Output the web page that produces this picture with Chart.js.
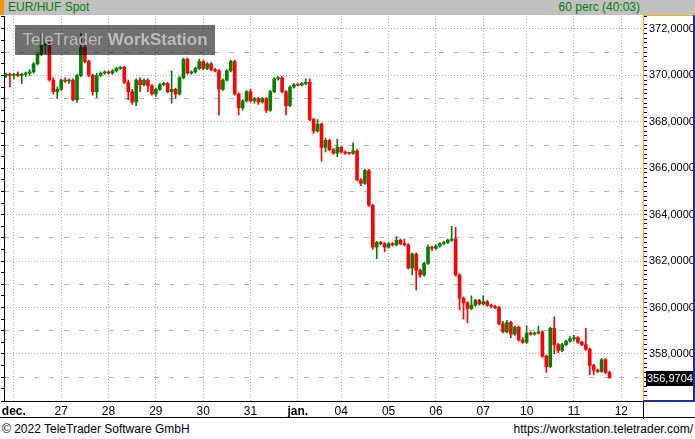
<!DOCTYPE html>
<html>
<head>
<meta charset="utf-8">
<script src="https://cdn.jsdelivr.net/npm/chart.js@4.4.1/dist/chart.umd.min.js"></script>
<style>
  body { margin: 0; width: 695px; height: 439px; position: relative; background: #fff; overflow: hidden;
         font-family: "Liberation Sans", Arial, sans-serif; }
  #head { position: absolute; left: 0; top: 0; width: 695px; height: 15px; background: #c0c0c0; }
  #head .mark { position: absolute; left: 0; top: 0; width: 4px; height: 15px; background: #f39200; }
  #head .title { position: absolute; left: 8px; top: 0; line-height: 15px; font-size: 12px; color: #008000; }
  #head .period { position: absolute; right: 55px; top: 0; line-height: 15px; font-size: 12px; color: #008000; }
  #wrap { position: absolute; left: 0; top: 15px; width: 695px; height: 404px; }
  #mark { position: absolute; left: 15px; top: 25px; width: 200px; height: 30px; background: rgba(0,0,0,0.56);
          color: #bcbcbc; font-size: 17px; line-height: 30px; text-align: center; z-index: 2; }
  #mark b { font-weight: bold; }
  .foot { position: absolute; top: 420px; line-height: 19px; font-size: 12px; color: #000; }
</style>
</head>
<body>
<div id="head"><div class="mark"></div><span class="title">EUR/HUF Spot</span><span class="period">60 perc (40:03)</span></div>
<div id="wrap"><canvas id="fxChart"></canvas></div>
<div id="mark">TeleTrader <b>WorkStation</b></div>
<div class="foot" style="left:2px">© 2022 TeleTrader Software GmbH</div>
<div class="foot" style="right:2px">https://workstation.teletrader.com/</div>
<script>
// days on the axis and how many 2h bars each one holds
var dayLabels = ['', 'dec.', '27', '28', '29', '30', '31', 'jan.', '04', '05', '06', '07', '10', '11', '12'];
var barsPerDay = [2, 12, 12, 12, 12, 12, 12, 11, 12, 12, 12, 11, 12, 12, 6];
var monthLabels = ['dec.', 'jan.'];
var lastPrice = 356.9704;

var opens = [
  370.00, 370.05, 370.00, 370.05, 370.00, 370.05, 370.10, 370.15, 370.50, 370.90,
  371.30, 371.35, 369.80, 369.30, 369.40, 369.80, 369.75, 369.80, 368.95, 370.00,
  371.20, 370.60, 370.00, 369.30, 370.00, 370.10, 370.15, 370.10, 370.20, 370.30,
  370.35, 369.70, 369.30, 368.85, 369.80, 369.60, 369.80, 369.55, 369.20, 369.40,
  369.60, 369.65, 369.30, 369.40, 369.20, 369.90, 370.70, 370.10, 370.15, 370.30,
  370.60, 370.30, 370.50, 370.25, 370.20, 369.40, 369.80, 370.20, 370.60, 369.20,
  368.60, 368.90, 369.30, 368.90, 369.00, 368.85, 369.00, 368.50, 369.30, 369.85,
  369.90, 369.30, 368.70, 369.50, 369.60, 369.58, 369.65, 369.70, 368.10, 367.60,
  367.90, 366.90, 367.20, 366.80, 366.65, 366.90, 366.70, 366.65, 366.64, 366.75,
  365.50, 365.35, 365.90, 364.40, 362.60, 362.80, 362.75, 362.60, 362.75, 362.70,
  362.90, 362.75, 362.70, 361.70, 362.30, 361.60, 361.40, 361.90, 362.60, 362.55,
  362.65, 362.75, 362.80, 362.90, 362.95, 361.40, 360.40, 360.20, 359.95, 360.10,
  360.30, 360.15, 360.25, 360.10, 360.05, 360.00, 359.30, 358.95, 359.35, 358.85,
  359.15, 358.60, 358.50, 358.90, 358.85, 358.90, 358.95, 357.90, 357.45, 359.10,
  358.40, 358.15, 358.40, 358.55, 358.65, 358.70, 358.50, 358.40, 358.20, 357.50,
  357.30, 357.25, 357.75, 357.20
];
var highs = [
  370.10, 370.10, 370.10, 370.15, 370.10, 370.15, 370.25, 370.55, 370.95, 371.80,
  371.55, 371.45, 369.90, 369.50, 369.85, 369.90, 369.85, 369.85, 370.05, 371.80,
  371.30, 370.65, 370.05, 370.10, 370.15, 370.20, 370.20, 370.25, 370.35, 370.40,
  370.40, 369.80, 369.40, 369.85, 369.90, 369.85, 369.85, 369.60, 369.45, 369.65,
  369.70, 369.70, 370.20, 369.45, 369.95, 370.75, 370.75, 370.20, 370.35, 370.70,
  370.65, 370.55, 370.55, 370.30, 370.25, 369.85, 370.25, 370.65, 370.65, 369.25,
  368.95, 369.35, 369.40, 369.05, 369.05, 369.05, 369.05, 369.35, 369.90, 369.95,
  369.95, 369.35, 369.55, 369.65, 369.65, 369.70, 369.85, 369.85, 368.15, 368.10,
  367.95, 367.30, 367.25, 366.85, 367.25, 366.95, 366.75, 366.70, 367.10, 366.80,
  365.55, 365.95, 365.95, 364.45, 362.85, 362.85, 362.80, 362.80, 362.80, 363.05,
  362.95, 362.95, 362.75, 362.35, 362.35, 361.65, 361.95, 362.70, 362.65, 362.70,
  362.80, 362.85, 362.95, 363.50, 363.45, 361.45, 360.45, 360.25, 360.50, 360.35,
  360.35, 360.50, 360.30, 360.15, 360.10, 360.05, 359.40, 359.45, 359.40, 359.20,
  359.20, 358.70, 359.20, 358.95, 358.95, 359.20, 359.00, 357.95, 359.15, 359.60,
  358.45, 358.45, 358.60, 358.75, 358.80, 358.75, 358.55, 359.10, 358.25, 357.55,
  357.35, 357.80, 357.80, 357.25
];
var lows = [
  369.90, 369.50, 369.85, 369.95, 369.65, 369.95, 370.00, 370.10, 370.45, 370.85,
  370.95, 369.75, 369.20, 369.00, 369.35, 369.70, 369.65, 368.90, 368.85, 369.95,
  370.55, 369.95, 369.15, 369.05, 369.95, 370.05, 370.05, 370.05, 370.15, 370.25,
  369.65, 368.95, 368.75, 368.70, 369.30, 369.55, 369.30, 369.15, 369.10, 369.35,
  369.55, 369.25, 368.80, 369.00, 369.15, 369.85, 370.05, 370.05, 370.10, 370.25,
  370.25, 370.25, 370.20, 370.15, 368.30, 369.35, 369.75, 370.15, 369.15, 368.30,
  368.50, 368.85, 368.85, 368.80, 368.75, 368.80, 368.40, 368.45, 369.25, 369.80,
  369.25, 368.30, 368.65, 369.45, 369.55, 369.55, 369.60, 368.05, 367.50, 367.55,
  366.30, 366.70, 366.75, 366.60, 366.50, 366.65, 366.60, 366.60, 366.60, 365.45,
  365.25, 365.30, 364.35, 362.50, 362.10, 362.70, 362.40, 362.55, 362.65, 362.65,
  362.70, 362.65, 361.65, 361.40, 360.75, 361.30, 361.35, 361.85, 362.45, 362.50,
  362.60, 362.70, 362.75, 362.85, 361.35, 359.90, 359.50, 359.35, 359.90, 360.05,
  360.10, 360.10, 360.05, 360.00, 359.95, 359.25, 358.90, 358.90, 358.70, 358.80,
  358.55, 358.45, 358.45, 358.80, 358.80, 358.85, 357.85, 357.20, 357.40, 358.00,
  358.05, 358.10, 358.35, 358.50, 358.55, 358.45, 358.35, 358.15, 357.10, 357.10,
  357.20, 357.20, 357.15, 356.95
];
var closes = [
  370.05, 370.00, 370.05, 370.00, 370.05, 370.10, 370.15, 370.50, 370.90, 371.30,
  371.35, 369.80, 369.30, 369.40, 369.80, 369.75, 369.80, 368.95, 370.00, 371.20,
  370.60, 370.00, 369.30, 370.00, 370.10, 370.15, 370.10, 370.20, 370.30, 370.35,
  369.70, 369.30, 368.85, 369.80, 369.60, 369.80, 369.55, 369.20, 369.40, 369.60,
  369.65, 369.30, 369.40, 369.20, 369.90, 370.70, 370.10, 370.15, 370.30, 370.60,
  370.30, 370.50, 370.25, 370.20, 369.40, 369.80, 370.20, 370.60, 369.20, 368.60,
  368.90, 369.30, 368.90, 369.00, 368.85, 369.00, 368.50, 369.30, 369.85, 369.90,
  369.30, 368.70, 369.50, 369.60, 369.58, 369.65, 369.70, 368.10, 367.60, 367.90,
  366.90, 367.20, 366.80, 366.65, 366.90, 366.70, 366.65, 366.64, 366.75, 365.50,
  365.35, 365.90, 364.40, 362.60, 362.80, 362.75, 362.60, 362.75, 362.70, 362.90,
  362.75, 362.70, 361.70, 362.30, 361.60, 361.40, 361.90, 362.60, 362.55, 362.65,
  362.75, 362.80, 362.90, 362.95, 361.40, 360.40, 360.20, 359.95, 360.10, 360.30,
  360.15, 360.25, 360.10, 360.05, 360.00, 359.30, 358.95, 359.35, 358.85, 359.15,
  358.60, 358.50, 358.90, 358.85, 358.90, 358.95, 357.90, 357.45, 359.10, 358.40,
  358.15, 358.40, 358.55, 358.65, 358.70, 358.50, 358.40, 358.20, 357.50, 357.30,
  357.25, 357.75, 357.20, 356.97
];

var UP = 'rgb(0,128,0)';
var DOWN = 'rgb(255,0,0)';

// one category per bar slot, day label on the first slot of each day
var labels = [];
var dayStart = {};
dayLabels.forEach(function (d, k) {
  for (var j = 0; j < barsPerDay[k]; j++) {
    if (j === 0 && d) dayStart[labels.length] = true;
    labels.push(j === 0 ? d : '');
  }
});

var wicks = lows.map(function (l, i) { return [l, highs[i]]; });
var bodies = opens.map(function (o, i) { return [o, closes[i]]; });
function candleColor(c) { return closes[c.dataIndex] >= opens[c.dataIndex] ? UP : DOWN; }

function fmt(v) { return v.toFixed(4).replace('.', ','); }
function isInt(v) { return Math.abs(v - Math.round(v)) < 1e-6; }
function noPad(s) { s.paddingTop = 0; s.paddingBottom = 0; }

var frame = {
  id: 'frame',
  afterDraw: function (chart) {
    var ctx = chart.ctx, a = chart.chartArea, w = chart.width, h = chart.height;
    ctx.save();
    ctx.fillStyle = '#000';
    ctx.fillRect(0, h - 2, w, 1);
    ctx.fillRect(a.right, a.bottom, 1, h - a.bottom);
    ctx.fillStyle = '#f0b400';
    ctx.fillRect(a.right, 0, w - a.right - 2, 1);
    ctx.fillStyle = '#1c2fa0';
    ctx.fillRect(w - 2, 0, 2, a.bottom + 1);
    ctx.fillRect(a.right, a.bottom - 1, w - a.right, 2);
    var py = Math.round(chart.scales.y.getPixelForValue(lastPrice));
    ctx.fillStyle = '#000';
    ctx.fillRect(a.right + 3, py - 7, 47, 15);
    ctx.fillStyle = '#fff';
    ctx.font = '11px "Liberation Sans", Arial, sans-serif';
    ctx.textBaseline = 'middle';
    ctx.fillText(fmt(lastPrice), a.right + 4, py + 1);
    ctx.restore();
  }
};

Chart.defaults.font.family = '"Liberation Sans", Arial, sans-serif';
Chart.defaults.font.size = 12;
Chart.defaults.color = '#000';

var ctx = document.getElementById('fxChart').getContext('2d');
var fxChart = new Chart(ctx, {
  type: 'bar',
  data: {
    labels: labels,
    datasets: [{
      data: wicks,
      yAxisID: 'y',
      grouped: false,
      barThickness: 1,
      backgroundColor: candleColor,
      borderWidth: 0
    }, {
      data: bodies,
      yAxisID: 'y',
      grouped: false,
      barThickness: 3,
      minBarLength: 1,
      backgroundColor: candleColor,
      borderWidth: 0
    }]
  },
  options: {
    responsive: true,
    maintainAspectRatio: false,
    animation: false,
    layout: { padding: { top: 1, left: 0, right: 0, bottom: 0 } },
    plugins: { legend: { display: false }, tooltip: { enabled: false } },
    scales: {
      x: {
        type: 'category',
        offset: true,
        afterBuildTicks: function (s) {
          s.ticks = s.ticks.filter(function (t) { return dayStart[t.value]; });
        },
        afterFit: function (s) { s.height = 18; s.paddingLeft = 0; s.paddingRight = 0; },
        grid: { offset: false, color: '#b4b4b4', drawTicks: false },
        border: { color: '#000', dash: function (c) { return c.tick ? [1, 2] : []; } },
        ticks: {
          autoSkip: false,
          maxRotation: 0,
          padding: 3,
          color: '#000',
          font: function (c) {
            var lab = c.tick ? c.tick.label : '';
            return { size: 12, weight: monthLabels.indexOf(lab) >= 0 ? 'bold' : 'normal' };
          }
        }
      },
      y: {
        position: 'right',
        min: 355.97,
        max: 372.56,
        afterFit: function (s) { s.width = 52; noPad(s); },
        ticks: {
          stepSize: 0.2,
          maxTicksLimit: 200,
          autoSkip: false,
          padding: 2,
          color: '#000',
          font: { size: 11 },
          callback: function (v) {
            return isInt(v) && Math.round(v) % 2 === 0 ? fmt(v) : '';
          }
        },
        grid: {
          color: function (c) { return c.tick && isInt(c.tick.value) ? '#b4b4b4' : 'rgba(0,0,0,0)'; },
          tickColor: '#000',
          tickLength: 4
        },
        border: {
          color: '#f0b400',
          dash: function (c) {
            if (!c.tick || !isInt(c.tick.value)) return [];
            return Math.round(c.tick.value) % 2 === 0 ? [1, 2] : [5, 10];
          }
        }
      },
      yl: {
        position: 'left',
        min: 355.97,
        max: 372.56,
        afterFit: function (s) { s.width = 4; noPad(s); },
        ticks: { stepSize: 0.5, autoSkip: false, padding: 0, callback: function () { return ''; } },
        grid: { drawOnChartArea: false, tickLength: 3, tickColor: '#000' },
        border: { color: '#000' }
      }
    }
  },
  plugins: [frame]
});
</script>
</body>
</html>
